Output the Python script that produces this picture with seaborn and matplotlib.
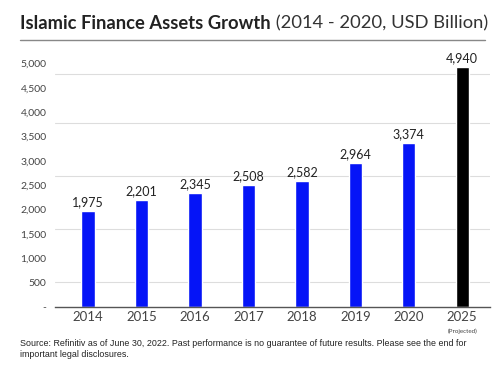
import matplotlib
matplotlib.use("Agg")
import matplotlib.pyplot as plt
import seaborn as sns
import pandas as pd
from matplotlib.ticker import FixedLocator, FuncFormatter

# data
years = ["2014", "2015", "2016", "2017", "2018", "2019", "2020", "2025"]
assets = [1975, 2201, 2345, 2508, 2582, 2964, 3374, 4940]
bar_colors = ["#0514f7"] * 7 + ["#000000"]
y_ticks = [0, 500, 1000, 1500, 2000, 2500, 3000, 3500, 4000, 4500, 5000]
grid_vals = [520, 1600, 2690, 3790, 4780]

df = pd.DataFrame({"year": years, "assets": assets})

sns.set_theme(style="white")
plt.rcParams["font.family"] = ["Lato", "DejaVu Sans"]

fig = plt.figure(figsize=(5, 3.8), dpi=100)
ax = fig.add_axes([0.11, 0.192, 0.87, 0.679])

sns.barplot(data=df, x="year", y="assets", hue="year", palette=bar_colors,
            width=0.25, legend=False, ax=ax, saturation=1)

ax.set_xlim(-0.62, 7.52)
ax.set_ylim(0, 5300)
ax.yaxis.set_major_locator(FixedLocator(y_ticks))
ax.yaxis.set_major_formatter(FuncFormatter(lambda v, p: "-" if v == 0 else f"{int(v):,}"))
ax.yaxis.set_minor_locator(FixedLocator(grid_vals))
ax.grid(False)
ax.grid(True, which="minor", axis="y", color="#dddddd", linewidth=0.8)
ax.set_axisbelow(True)
ax.tick_params(axis="y", which="major", labelsize=7.5, colors="#444444", length=0, pad=6)
ax.tick_params(axis="y", which="minor", length=0)
ax.tick_params(axis="x", labelsize=9.5, colors="#444444", length=0, pad=3)
for s in ["top", "right", "left"]:
    ax.spines[s].set_visible(False)
ax.spines["bottom"].set_color("#555555")
ax.spines["bottom"].set_linewidth(1.0)
ax.set_xlabel("")
ax.set_ylabel("")

for i, v in enumerate(assets):
    ax.annotate(f"{v:,}", (i, v), xytext=(0, 2), textcoords="offset points",
                ha="center", va="bottom", fontsize=9, color="#222222")

ax.text(7, -0.095, "(Projected)", transform=ax.get_xaxis_transform(),
        ha="center", va="center", fontsize=4.5, color="#444444", clip_on=False)

# title
t1 = fig.text(0.04, 0.924, "Islamic Finance Assets Growth", fontsize=13.2,
              fontweight="bold", color="#222222", va="baseline")
ax.annotate(" (2014 - 2020, USD Billion)", xy=(1, 0), xycoords=t1, va="bottom",
            fontsize=13.2, color="#333333", annotation_clip=False)
fig.add_artist(plt.Line2D([0.04, 0.97], [0.895, 0.895], transform=fig.transFigure,
                          color="#888888", linewidth=1.0))

fig.text(0.04, 0.107,
         "Source: Refinitiv as of June 30, 2022. Past performance is no guarantee of future results. Please see the end for\nimportant legal disclosures.",
         fontsize=6.4, family=["Liberation Sans", "DejaVu Sans"], color="#222222",
         va="top", linespacing=1.3)

fig.savefig("out.png", dpi=100)
